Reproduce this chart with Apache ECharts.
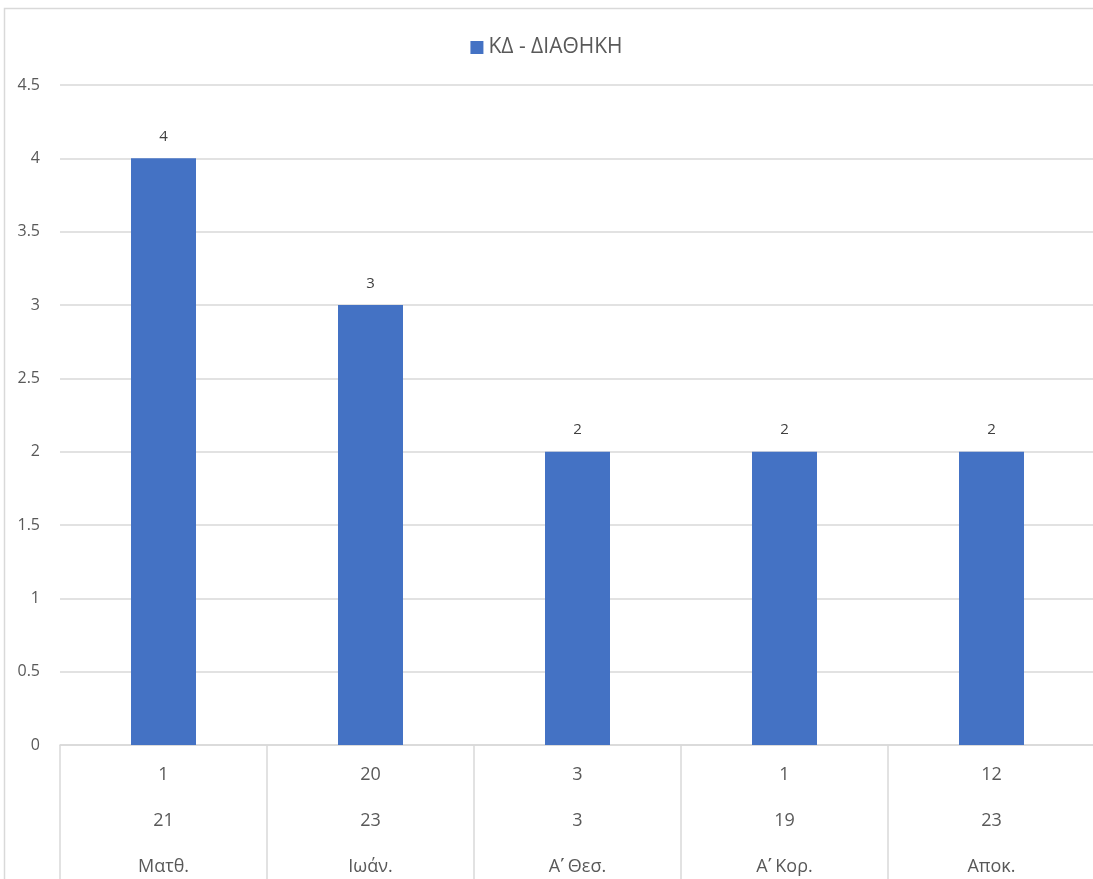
<!DOCTYPE html>
<html>
<head>
<meta charset="utf-8">
<script src="https://cdn.jsdelivr.net/npm/echarts@6/dist/echarts.min.js"></script>
<style>html,body{margin:0;padding:0;background:#fff;overflow:hidden;}#c{width:1093px;height:879px;}</style>
</head>
<body>
<div id="c"></div>
<script>
const books = ["Ματθ.", "Ιωάν.", "Α\u0374 Θεσ.", "Α\u0374 Κορ.", "Αποκ."];
const chapters = ["1", "20", "3", "1", "12"];
const verses = ["21", "23", "3", "19", "23"];
const values = [4, 3, 2, 2, 2];
const seriesName = "ΚΔ - ΔΙΑΘΗΚΗ";

const FONT = "'Open Sans', 'Noto Sans', sans-serif";
const chart = echarts.init(document.getElementById('c'));
chart.setOption({
  animation: false,
  textStyle: { fontFamily: FONT },
  graphic: [{
    type: 'rect', shape: { x: 4.5, y: 8.5, width: 1200, height: 1000 },
    style: { fill: 'none', stroke: '#d9d9d9', lineWidth: 1.5 }, silent: true, z: -1
  }],
  legend: {
    top: 32, left: 'center',
    itemWidth: 13, itemHeight: 13, icon: 'rect', itemGap: 8,
    textStyle: { fontSize: 21, color: '#595959', fontFamily: FONT }
  },
  grid: { left: 60, right: -2, top: 85, bottom: 134, containLabel: false, outerBoundsMode: 'none' },
  xAxis: {
    type: 'category',
    data: books,
    axisLine: { lineStyle: { color: '#d9d9d9', width: 1.5 } },
    axisTick: { show: true, length: 140, lineStyle: { color: '#d9d9d9', width: 1.5 } },
    axisLabel: {
      margin: 7,
      interval: 0,
      lineHeight: 46,
      fontSize: 18,
      color: '#595959',
      fontFamily: FONT,
      formatter: function (v, i) { return chapters[i] + '\n' + verses[i] + '\n' + v; }
    }
  },
  yAxis: {
    type: 'value', min: 0, max: 4.5, interval: 0.5,
    axisLine: { show: false }, axisTick: { show: false },
    splitLine: { lineStyle: { color: '#d9d9d9', width: 1.5 } },
    axisLabel: { fontSize: 16, color: '#595959', margin: 20, fontFamily: FONT }
  },
  series: [{
    name: seriesName,
    type: 'bar',
    data: values,
    barWidth: 65,
    itemStyle: { color: '#4472C4' },
    label: { show: true, position: 'top', distance: 14, fontSize: 15, color: '#404040', fontFamily: FONT }
  }]
});
</script>
</body>
</html>
